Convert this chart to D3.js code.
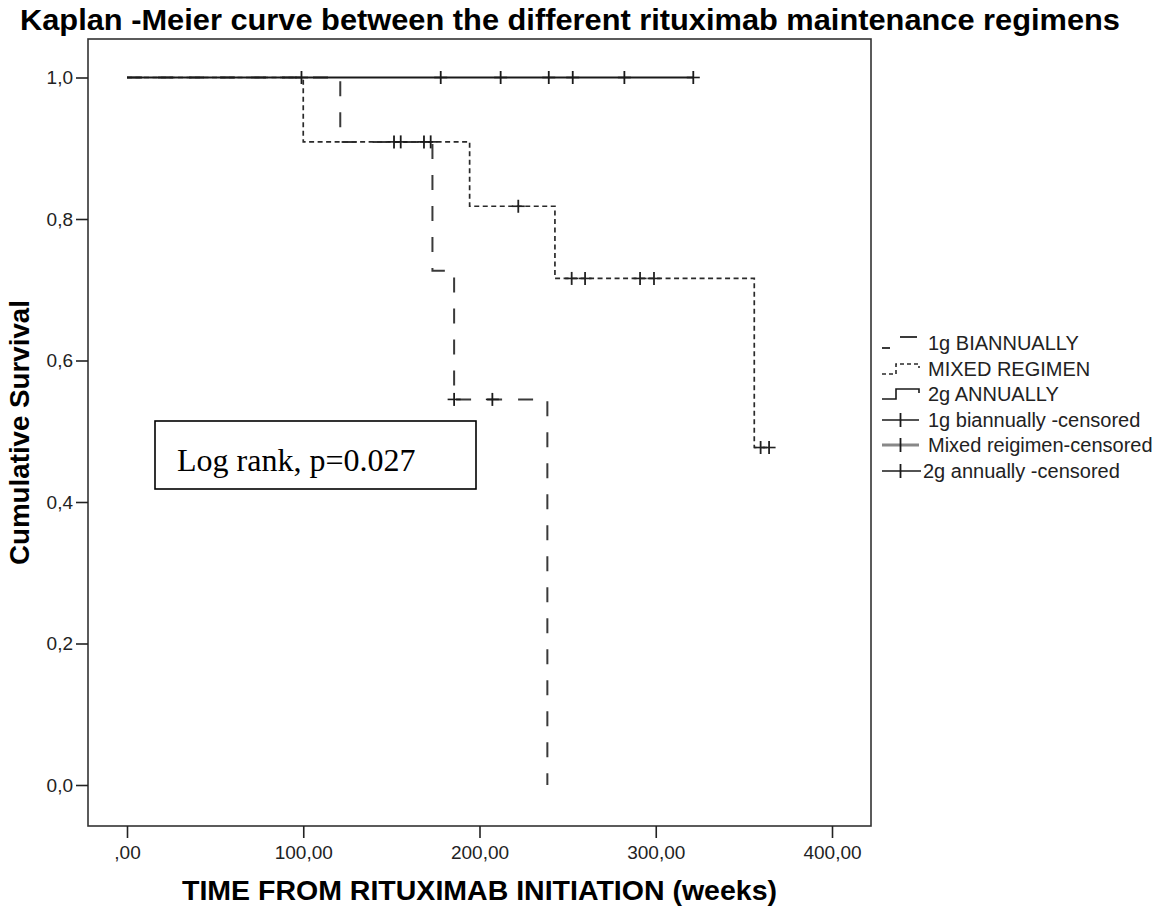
<!DOCTYPE html>
<html>
<head>
<meta charset="utf-8">
<script src="https://cdn.jsdelivr.net/npm/d3@7"></script>
<style>
  html, body { margin: 0; padding: 0; background: #fff; }
  svg { display: block; }
</style>
</head>
<body>
<svg id="chart" width="1165" height="916"></svg>
<script>
// ---------------- data ----------------
const titleText = "Kaplan -Meier curve between the different rituximab maintenance regimens";
const xTitle = "TIME FROM RITUXIMAB INITIATION (weeks)";
const yTitle = "Cumulative Survival";
const xTickValues = [0, 100, 200, 300, 400];
const xTickLabels = [",00", "100,00", "200,00", "300,00", "400,00"];
const yTickValues = [0, 0.2, 0.4, 0.6, 0.8, 1.0];
const yTickLabels = ["0,0", "0,2", "0,4", "0,6", "0,8", "1,0"];

// 1g BIANNUALLY: step points (time, survival)
const biTimes = [0, 121, 173.3, 185.6, 238.5];
const biSurv  = [1.0, 0.909, 0.727, 0.545, 0.0];
const biCensorTimes = [151.5, 155.3, 168.5, 172.3, 185.6, 207.3];
const biCensorSurv  = [0.909, 0.909, 0.909, 0.909, 0.545, 0.545];

// MIXED REGIMEN
const mixTimes = [0, 100, 194.4, 242.8, 355.9, 364.3];
const mixSurv  = [1.0, 0.909, 0.818, 0.716, 0.477, 0.477];
const mixCensorTimes = [222, 252.3, 259.9, 291.1, 299, 359.5, 364.3];
const mixCensorSurv  = [0.818, 0.716, 0.716, 0.716, 0.716, 0.477, 0.477];

// 2g ANNUALLY
const annTimes = [0, 321.3];
const annSurv  = [1.0, 1.0];
const annCensorTimes = [99, 178, 212, 239.3, 252.9, 282.2, 321.3];
const annCensorSurv  = [1, 1, 1, 1, 1, 1, 1];

const legendLabels = ["1g BIANNUALLY", "MIXED REGIMEN", "2g ANNUALLY",
  "1g biannually -censored", "Mixed reigimen-censored", "2g annually -censored"];
const annotationText = "Log rank, p=0.027";

// ---------------- layout ----------------
const svg = d3.select("#chart");
const frame = {left: 88, right: 871, top: 39, bottom: 826};
const x = d3.scaleLinear().domain([0, 400]).range([127, 832]);
const y = d3.scaleLinear().domain([0, 1]).range([785, 77.5]);
const sans = "'Liberation Sans', Arial, sans-serif";

// title
svg.append("text")
  .attr("x", 570).attr("y", 30)
  .attr("text-anchor", "middle")
  .attr("font-family", sans).attr("font-weight", "bold").attr("font-size", 30)
  .attr("textLength", 1100).attr("lengthAdjust", "spacingAndGlyphs")
  .attr("fill", "#000")
  .text(titleText);

// frame
svg.append("rect")
  .attr("x", frame.left).attr("y", frame.top)
  .attr("width", frame.right - frame.left).attr("height", frame.bottom - frame.top)
  .attr("fill", "none").attr("stroke", "#333").attr("stroke-width", 1.6);

// axes
const xAxis = d3.axisBottom(x).tickValues(xTickValues)
  .tickFormat((d, i) => xTickLabels[i]).tickSize(12).tickPadding(8);
const gx = svg.append("g").attr("transform", `translate(0,${frame.bottom})`).call(xAxis);
gx.select(".domain").remove();
gx.selectAll("line").attr("stroke", "#222").attr("stroke-width", 1.6);
gx.selectAll("text").attr("font-family", sans).attr("font-size", 19).attr("fill", "#222");

const yAxis = d3.axisLeft(y).tickValues(yTickValues)
  .tickFormat((d, i) => yTickLabels[i]).tickSize(12).tickPadding(3);
const gy = svg.append("g").attr("transform", `translate(${frame.left},0)`).call(yAxis);
gy.select(".domain").remove();
gy.selectAll("line").attr("stroke", "#222").attr("stroke-width", 1.6);
gy.selectAll("text").attr("font-family", sans).attr("font-size", 19).attr("fill", "#222");

// axis titles
svg.append("text")
  .attr("x", (frame.left + frame.right) / 2).attr("y", 900)
  .attr("text-anchor", "middle")
  .attr("font-family", sans).attr("font-weight", "bold").attr("font-size", 27)
  .attr("textLength", 595).attr("lengthAdjust", "spacingAndGlyphs")
  .text(xTitle);

svg.append("text")
  .attr("transform", `translate(29,${(frame.top + frame.bottom) / 2}) rotate(-90)`)
  .attr("text-anchor", "middle")
  .attr("font-family", sans).attr("font-weight", "bold").attr("font-size", 27)
  .attr("textLength", 265).attr("lengthAdjust", "spacingAndGlyphs")
  .text(yTitle);

// curves
const line = d3.line().x(d => x(d[0])).y(d => y(d[1])).curve(d3.curveStepAfter);
const plot = svg.append("g");

function curve(times, surv, style) {
  plot.append("path")
    .datum(times.map((t, i) => [t, surv[i]]))
    .attr("d", line)
    .attr("fill", "none")
    .attr("stroke", style.color)
    .attr("stroke-width", style.width)
    .attr("stroke-dasharray", style.dash || null);
}
curve(biTimes, biSurv, {color: "#3a3a3a", width: 2, dash: "15,16"});
curve(mixTimes, mixSurv, {color: "#2a2a2a", width: 1.7, dash: "5,3.5"});
curve(annTimes, annSurv, {color: "#1a1a1a", width: 1.8});

function censors(times, surv, color) {
  const g = plot.append("g");
  times.forEach((t, i) => {
    const cx = x(t), cy = y(surv[i]);
    g.append("line").attr("x1", cx - 6.5).attr("x2", cx + 6.5).attr("y1", cy).attr("y2", cy)
      .attr("stroke", color).attr("stroke-width", 1.6);
    g.append("line").attr("x1", cx).attr("x2", cx).attr("y1", cy - 6.5).attr("y2", cy + 6.5)
      .attr("stroke", color).attr("stroke-width", 1.8);
  });
}
censors(biCensorTimes, biCensorSurv, "#1a1a1a");
censors(mixCensorTimes, mixCensorSurv, "#222");
censors(annCensorTimes, annCensorSurv, "#1a1a1a");

// annotation box
svg.append("rect")
  .attr("x", 155).attr("y", 421).attr("width", 321).attr("height", 68)
  .attr("fill", "#fff").attr("stroke", "#000").attr("stroke-width", 1.6);
svg.append("text")
  .attr("x", 177).attr("y", 471)
  .attr("font-family", "'Liberation Serif', 'Times New Roman', serif").attr("font-size", 32)
  .attr("fill", "#000")
  .text(annotationText);

// legend
const legRows = [343, 369, 394, 420, 445, 471];
const lg = svg.append("g");
const stepPath = cy => `M882,${cy + 5}H896V${cy - 5}H919V${cy - 1}`;
lg.append("path").attr("d", `M882,${legRows[0] + 5}H896V${legRows[0] - 6}H919`)
  .attr("fill", "none").attr("stroke", "#3a3a3a").attr("stroke-width", 1.8)
  .attr("stroke-dasharray", "8,21,17");
lg.append("path").attr("d", stepPath(legRows[1]))
  .attr("fill", "none").attr("stroke", "#2a2a2a").attr("stroke-width", 1.6)
  .attr("stroke-dasharray", "4,3");
lg.append("path").attr("d", stepPath(legRows[2]))
  .attr("fill", "none").attr("stroke", "#1a1a1a").attr("stroke-width", 1.6);
[3, 4, 5].forEach(k => {
  const cy = legRows[k];
  const xr = k === 5 ? 921 : 919;
  lg.append("line").attr("x1", 882).attr("x2", xr).attr("y1", cy).attr("y2", cy)
    .attr("stroke", k === 4 ? "#888" : "#1a1a1a").attr("stroke-width", k === 4 ? 3 : 1.6);
  lg.append("line").attr("x1", 900.5).attr("x2", 900.5).attr("y1", cy - 7).attr("y2", cy + 7)
    .attr("stroke", "#1a1a1a").attr("stroke-width", 1.8);
});
legendLabels.forEach((lab, i) => {
  lg.append("text")
    .attr("x", i === 5 ? 923 : 928).attr("y", legRows[i])
    .attr("dy", "0.35em")
    .attr("font-family", sans).attr("font-size", 20).attr("fill", "#222")
    .text(lab);
});
</script>
</body>
</html>
